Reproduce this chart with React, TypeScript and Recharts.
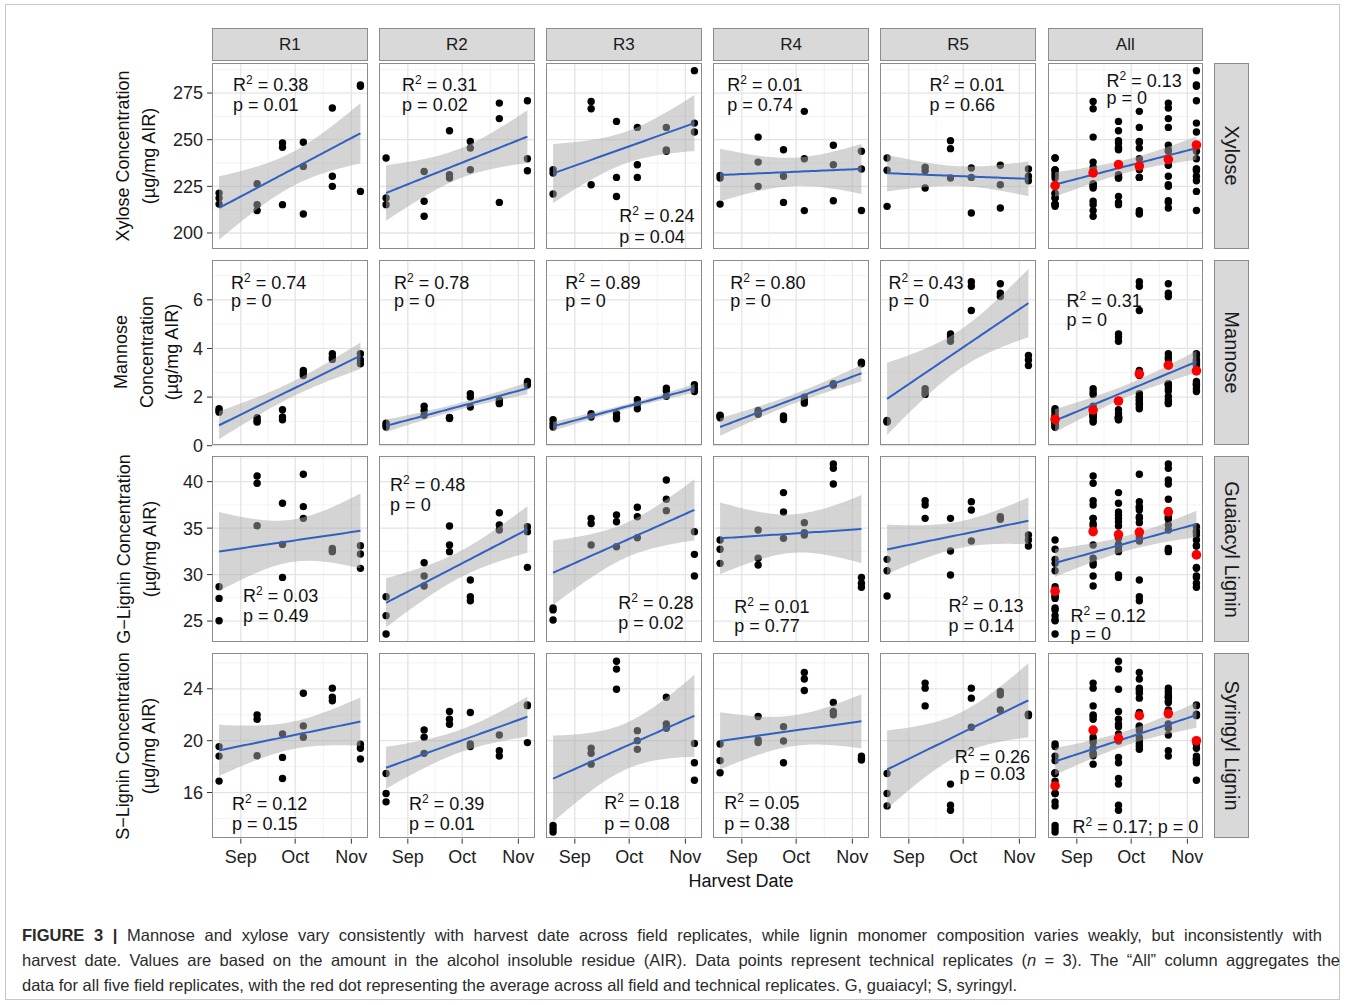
import React from "react";
import {
  ComposedChart,
  Scatter,
  Line,
  Area,
  XAxis,
  YAxis,
  CartesianGrid,
} from "recharts";

// harvest dates as days after 1 August
const harvestDays = [19, 40, 54, 65.5, 81.5, 97];
const monthTicks = [31, 61, 92];
const monthLabels = ["Sep", "Oct", "Nov"];
const minorDays = [46, 76.5];

const replicateNames = ["R1", "R2", "R3", "R4", "R5", "All"];

// three technical replicates per harvest date
const xyloseR1 = [[221.4, 218.7, 215.5], [226.4, 215.2, 212.0], [248.2, 245.9, 215.2], [248.6, 235.7, 210.2], [267.0, 230.4, 225.0], [278.6, 279.4, 222.3]];
const xyloseR2 = [[240.2, 218.8, 215.2], [233.0, 217.0, 209.0], [254.8, 231.3, 229.5], [249.1, 245.5, 233.9], [269.6, 261.3, 216.4], [270.9, 239.8, 233.4]];
const xyloseR3 = [[233.9, 232.1, 220.9], [270.5, 266.6, 225.9], [259.8, 229.8, 219.6], [256.6, 236.6, 229.8], [256.6, 243.8, 244.5], [287.0, 258.9, 254.1]];
const xyloseR4 = [[230.9, 229.5, 215.5], [251.4, 238.0, 225.0], [244.6, 230.4, 216.4], [265.2, 239.8, 212.0], [247.0, 236.6, 217.3], [243.8, 234.3, 212.1]];
const xyloseR5 = [[240.2, 233.6, 214.3], [235.2, 233.4, 224.1], [249.5, 245.2, 229.5], [234.8, 229.8, 210.7], [236.3, 225.9, 213.4], [234.3, 230.4, 228.0]];

const mannoseR1 = [[1.52, 1.45, 1.38], [1.15, 1.04, 0.97], [1.48, 1.18, 1.07], [3.1, 2.99, 2.89], [3.78, 3.64, 3.55], [3.78, 3.53, 3.37]];
const mannoseR2 = [[0.93, 0.84, 0.77], [1.62, 1.45, 1.25], [1.16, 1.14, 1.12], [2.14, 2.0, 1.59], [1.89, 1.78, 1.73], [2.64, 2.55, 2.5]];
const mannoseR3 = [[1.07, 0.9, 0.77], [1.32, 1.25, 1.18], [1.32, 1.18, 1.11], [1.89, 1.7, 1.52], [2.37, 2.25, 2.03], [2.51, 2.34, 2.23]];
const mannoseR4 = [[1.25, 1.2, 1.15], [1.45, 1.35, 1.29], [1.22, 1.15, 1.08], [2.0, 1.85, 1.75], [2.55, 2.52, 2.5], [3.44, 3.4, 3.37]];
const mannoseR5 = [[1.04, 1.0, 0.97], [2.34, 2.21, 2.11], [4.6, 4.47, 4.3], [6.75, 6.56, 5.56], [6.66, 6.27, 6.14], [3.71, 3.53, 3.3]];

const gLigninR1 = [[28.7, 27.44, 25.04], [40.61, 39.82, 35.26], [37.67, 33.25, 29.7], [40.79, 37.31, 36.05], [32.82, 32.6, 32.47], [33.11, 32.21, 30.67]];
const gLigninR2 = [[27.62, 25.58, 23.6], [31.28, 29.85, 28.77], [35.23, 33.18, 32.47], [29.42, 27.62, 27.19], [36.66, 35.34, 34.8], [35.16, 34.62, 30.78]];
const gLigninR3 = [[26.4, 26.2, 25.11], [36.05, 35.5, 33.18], [36.41, 35.69, 33.0], [37.24, 36.23, 33.97], [40.18, 38.1, 36.88], [34.62, 32.18, 29.85]];
const gLigninR4 = [[33.72, 32.72, 31.21], [34.8, 31.75, 31.03], [38.82, 36.73, 33.9], [35.59, 34.5, 34.26], [41.9, 41.43, 39.75], [29.7, 29.06, 28.63]];
const gLigninR5 = [[31.64, 30.42, 27.69], [37.95, 37.49, 36.05], [36.05, 32.54, 29.95], [37.85, 36.95, 33.61], [36.23, 36.1, 35.95], [34.26, 33.72, 33.08]];

const sLigninR1 = [[19.54, 18.81, 16.88], [21.99, 21.65, 18.84], [20.52, 18.71, 17.08], [23.66, 21.14, 20.26], [24.05, 23.35, 23.07], [19.72, 19.41, 18.58]];
const sLigninR2 = [[17.47, 15.92, 15.28], [20.83, 20.26, 19.02], [22.25, 21.65, 21.26], [22.17, 19.74, 19.54], [20.44, 19.23, 18.81], [22.76, 22.7, 19.85]];
const sLigninR3 = [[13.47, 13.21, 12.95], [19.41, 19.02, 18.19], [26.12, 25.52, 23.97], [20.77, 20.0, 19.33], [23.35, 21.29, 20.95], [19.79, 18.3, 16.95]];
const sLigninR4 = [[19.74, 18.45, 17.52], [21.86, 20.05, 19.85], [21.08, 19.97, 18.3], [25.26, 24.75, 23.87], [22.94, 22.25, 21.99], [18.81, 18.63, 18.5]];
const sLigninR5 = [[17.47, 15.92, 14.97], [24.44, 24.05, 22.68], [16.65, 15.02, 14.63], [24.05, 23.28, 21.03], [23.79, 23.54, 22.37], [22.05, 21.99, 21.93]];

// R² and p printed in each panel (R1..R5, All)
const xyloseStats = [["0.38", "0.01"], ["0.31", "0.02"], ["0.24", "0.04"], ["0.01", "0.74"], ["0.01", "0.66"], ["0.13", "0"]];
const mannoseStats = [["0.74", "0"], ["0.78", "0"], ["0.89", "0"], ["0.80", "0"], ["0.43", "0"], ["0.31", "0"]];
const gLigninStats = [["0.03", "0.49"], ["0.48", "0"], ["0.28", "0.02"], ["0.01", "0.77"], ["0.13", "0.14"], ["0.12", "0"]];
const sLigninStats = [["0.12", "0.15"], ["0.39", "0.01"], ["0.18", "0.08"], ["0.05", "0.38"], ["0.26", "0.03"], ["0.17", "0"]];

const rows = [
  {
    strip: "Xylose",
    title: ["Xylose Concentration", "(µg/mg AIR)"],
    reps: [xyloseR1, xyloseR2, xyloseR3, xyloseR4, xyloseR5],
    stats: xyloseStats,
    domain: [191.6, 291.1],
    ticks: [200, 225, 250, 275],
    minor: [212.5, 237.5, 262.5, 287.5],
    titleX: 135.5,
  },
  {
    strip: "Mannose",
    title: ["Mannose", "Concentration", "(µg/mg AIR)"],
    reps: [mannoseR1, mannoseR2, mannoseR3, mannoseR4, mannoseR5],
    stats: mannoseStats,
    domain: [0, 7.64],
    ticks: [0, 2, 4, 6],
    minor: [1, 3, 5, 7],
    titleX: 147,
  },
  {
    strip: "Guaiacyl Lignin",
    title: ["G−Lignin Concentration", "(µg/mg AIR)"],
    reps: [gLigninR1, gLigninR2, gLigninR3, gLigninR4, gLigninR5],
    stats: gLigninStats,
    domain: [22.78, 42.76],
    ticks: [25, 30, 35, 40],
    minor: [27.5, 32.5, 37.5, 42.5],
    titleX: 136.5,
  },
  {
    strip: "Syringyl Lignin",
    title: ["S−Lignin Concentration", "(µg/mg AIR)"],
    reps: [sLigninR1, sLigninR2, sLigninR3, sLigninR4, sLigninR5],
    stats: sLigninStats,
    domain: [12.44, 26.76],
    ticks: [16, 20, 24],
    minor: [14, 18, 22, 26],
    titleX: 136,
  },
];

// where the R²/p text sits inside each panel (px from panel top-left)
const annotLayout = [
  [{ x: 20, y: 21, dy: 20 }, { x: 22, y: 21, dy: 20 }, { x: 72, y: 152, dy: 21 }, { x: 13, y: 21, dy: 20 }, { x: 48, y: 21, dy: 20 }, { x: 58, y: 17, dy: 17 }],
  [{ x: 18, y: 22, dy: 18 }, { x: 14, y: 22, dy: 18 }, { x: 18, y: 22, dy: 18 }, { x: 16, y: 22, dy: 18 }, { x: 7, y: 22, dy: 18 }, { x: 18, y: 40, dy: 19 }],
  [{ x: 30, y: 139, dy: 20 }, { x: 10, y: 28, dy: 20 }, { x: 71, y: 146, dy: 20 }, { x: 20, y: 150, dy: 19 }, { x: 67, y: 149, dy: 20 }, { x: 22, y: 159, dy: 18 }],
  [{ x: 19, y: 150, dy: 20 }, { x: 29, y: 150, dy: 20 }, { x: 57, y: 149, dy: 21 }, { x: 10, y: 149, dy: 21 }, { x: 111, y: 103, dy: 17, center: true }, { x: 24, y: 173, dy: 0, inline: true }],
];

const FONT = "'Liberation Sans', Arial, sans-serif";
const colX = [212, 379.1, 546.2, 713.3, 880.4, 1047.5];
const rowY = [63, 259.6, 456.2, 652.8];
const panelW = 155.5;
const panelH = 185.7;
const yAxisW = 40;
const xAxisH = 36;
const pad = 12; // room above/below the plot so edge tick labels are not clipped

const xMin = Math.min(...harvestDays);
const xMax = Math.max(...harvestDays);
const xPad = (xMax - xMin) * 0.05;
const xDomain = [xMin - xPad, xMax + xPad];

const mean = (a: number[]) => a.reduce((s, v) => s + v, 0) / a.length;

// lm fit with 95% confidence band, like geom_smooth(method = "lm")
function fitCurve(pts: { x: number; y: number }[]) {
  const n = pts.length;
  const mx = mean(pts.map((p) => p.x));
  const my = mean(pts.map((p) => p.y));
  let sxx = 0;
  let sxy = 0;
  pts.forEach((p) => {
    sxx += (p.x - mx) ** 2;
    sxy += (p.x - mx) * (p.y - my);
  });
  const b = sxy / sxx;
  const a = my - b * mx;
  let sse = 0;
  pts.forEach((p) => (sse += (p.y - a - b * p.x) ** 2));
  const df = n - 2;
  const s = Math.sqrt(sse / df);
  const t = 1.96 + 2.37 / df + 2.8 / (df * df);
  const out = [];
  for (let i = 0; i <= 40; i++) {
    const x = xMin + ((xMax - xMin) * i) / 40;
    const yh = a + b * x;
    const h = t * s * Math.sqrt(1 / n + (x - mx) ** 2 / sxx);
    out.push({ x, fit: yh, band: [yh - h, yh + h] });
  }
  return out;
}

const Dot = (r: number, fill: string) => (p: any) =>
  <circle cx={p.cx} cy={p.cy} r={r} fill={fill} />;

function Annotation({ stat, pos }: any) {
  const r2 = (
    <>
      R<span style={{ fontSize: 12, position: "relative", top: -7 }}>2</span> = {stat[0]}
    </>
  );
  const base: React.CSSProperties = {
    position: "absolute",
    whiteSpace: "nowrap",
    fontSize: 18,
    lineHeight: "20px",
    color: "#111",
  };
  if (pos.inline) {
    return (
      <div style={{ ...base, left: pos.x, top: pos.y - 10 }}>
        {r2}; p = {stat[1]}
      </div>
    );
  }
  const tf = pos.center ? "translateX(-50%)" : undefined;
  return (
    <>
      <div style={{ ...base, left: pos.x, top: pos.y - 10, transform: tf }}>{r2}</div>
      <div style={{ ...base, left: pos.x, top: pos.y + pos.dy - 10, transform: tf }}>
        p = {stat[1]}
      </div>
    </>
  );
}

function Panel({ row, r, c }: any) {
  const isAll = c === 5;
  const groups: number[][] = isAll
    ? harvestDays.map((_, i) => row.reps.flatMap((rep: number[][]) => rep[i]))
    : row.reps[c];
  const pts = groups.flatMap((g, i) => g.map((v) => ({ x: harvestDays[i], y: v })));
  const means = groups.map((g, i) => ({ x: harvestDays[i], y: mean(g) }));
  const curve = fitCurve(pts);
  const showY = c === 0;
  const showX = r === 3;
  const offX = showY ? yAxisW : 0;
  const w = panelW + offX;
  const h = panelH + 2 * pad + (showX ? xAxisH : 0);
  return (
    <div style={{ position: "absolute", left: colX[c] - offX, top: rowY[r] - pad, width: w, height: h }}>
      {/* layer 1: grid, axes and the raw points */}
      <ComposedChart width={w} height={h} margin={{ top: pad, right: 0, bottom: pad, left: 0 }}>
        <CartesianGrid stroke="#f0f0f0" strokeWidth={0.8} horizontalValues={row.minor} verticalValues={minorDays} />
        <CartesianGrid stroke="#e4e4e4" strokeWidth={1.3} horizontalValues={row.ticks} verticalValues={monthTicks} />
        <XAxis
          type="number"
          dataKey="x"
          domain={xDomain}
          ticks={monthTicks}
          interval={0}
          allowDataOverflow
          hide={!showX}
          height={xAxisH}
          tickSize={5}
          tickMargin={7}
          axisLine={false}
          tickLine={{ stroke: "#333" }}
          tick={{ fontSize: 18, fill: "#222", fontFamily: FONT }}
          tickFormatter={(v: number) => monthLabels[monthTicks.indexOf(v)]}
        />
        <YAxis
          type="number"
          domain={row.domain}
          ticks={row.ticks}
          interval={0}
          allowDataOverflow
          hide={!showY}
          width={yAxisW}
          tickSize={5}
          tickMargin={4}
          axisLine={false}
          tickLine={{ stroke: "#333" }}
          tick={{ fontSize: 18, fill: "#222", fontFamily: FONT }}
        />
        <Scatter data={pts} dataKey="y" shape={Dot(3.7, "#000")} isAnimationActive={false} />
      </ComposedChart>
      {/* layer 2: lm band and line over the points, then the means */}
      <div style={{ position: "absolute", left: offX, top: pad }}>
        <ComposedChart width={panelW} height={panelH} data={curve} margin={{ top: 0, right: 0, bottom: 0, left: 0 }}>
          <XAxis type="number" dataKey="x" domain={xDomain} allowDataOverflow hide />
          <YAxis type="number" domain={row.domain} allowDataOverflow hide />
          <Area dataKey="band" stroke="none" fill="#aaaaaa" fillOpacity={0.5} isAnimationActive={false} />
          <Line dataKey="fit" stroke="#3061c0" strokeWidth={2} dot={false} isAnimationActive={false} />
          {isAll && <Scatter data={means} dataKey="y" shape={Dot(4.8, "#ff0000")} isAnimationActive={false} />}
        </ComposedChart>
      </div>
      <div
        style={{
          position: "absolute",
          left: offX,
          top: pad,
          width: panelW,
          height: panelH,
          border: "1px solid #8c8c8c",
          boxSizing: "border-box",
          pointerEvents: "none",
        }}
      >
        <Annotation stat={row.stats[c]} pos={annotLayout[r][c]} />
      </div>
    </div>
  );
}

export default function App() {
  const strip: React.CSSProperties = {
    position: "absolute",
    background: "#d9d9d9",
    border: "1px solid #8c8c8c",
    boxSizing: "border-box",
    display: "flex",
    alignItems: "center",
    justifyContent: "center",
    color: "#1a1a1a",
  };
  const cap: React.CSSProperties = {
    position: "absolute",
    left: 22,
    whiteSpace: "nowrap",
    fontSize: 16.5,
    color: "#2a2a2a",
    lineHeight: "20px",
  };
  const justified: React.CSSProperties = { textAlign: "justify", textAlignLast: "justify", whiteSpace: "normal" };
  return (
    <div
      style={{
        position: "absolute",
        left: 0,
        top: 0,
        width: 1346,
        height: 1005,
        background: "#fff",
        fontFamily: FONT,
        overflow: "hidden",
      }}
    >
      <div style={{ position: "absolute", left: 5, top: 4, width: 1335, height: 996, border: "1px solid #c8c8c8", boxSizing: "border-box" }} />
      {replicateNames.map((n, c) => (
        <div key={n} style={{ ...strip, left: colX[c], top: 28, width: panelW, height: 33, fontSize: 17 }}>
          {n}
        </div>
      ))}
      {rows.map((row, r) => (
        <React.Fragment key={row.strip}>
          <div style={{ ...strip, left: 1214, top: rowY[r], width: 35, height: panelH }}>
            <div style={{ transform: "rotate(90deg)", whiteSpace: "nowrap", fontSize: 20 }}>{row.strip}</div>
          </div>
          <div
            style={{
              position: "absolute",
              left: row.titleX,
              top: rowY[r] + panelH / 2,
              transform: "translate(-50%, -50%) rotate(-90deg)",
              textAlign: "center",
              whiteSpace: "nowrap",
              fontSize: 18,
              lineHeight: "25.5px",
              color: "#111",
            }}
          >
            {row.title.map((t) => (
              <div key={t}>{t}</div>
            ))}
          </div>
          {replicateNames.map((n, c) => (
            <Panel key={n} row={row} r={r} c={c} />
          ))}
        </React.Fragment>
      ))}
      <div style={{ position: "absolute", left: 741, top: 871, transform: "translateX(-50%)", fontSize: 18, color: "#111", whiteSpace: "nowrap" }}>
        Harvest Date
      </div>
      <div style={{ ...cap, ...justified, top: 925, width: 1300 }}>
        <b>FIGURE 3 |</b> Mannose and xylose vary consistently with harvest date across field replicates, while lignin monomer composition varies weakly, but inconsistently with
      </div>
      <div style={{ ...cap, ...justified, top: 950, width: 1318 }}>
        harvest date. Values are based on the amount in the alcohol insoluble residue (AIR). Data points represent technical replicates (<i>n</i> = 3). The “All” column aggregates the
      </div>
      <div style={{ ...cap, top: 975 }}>
        data for all five field replicates, with the red dot representing the average across all field and technical replicates. G, guaiacyl; S, syringyl.
      </div>
    </div>
  );
}
